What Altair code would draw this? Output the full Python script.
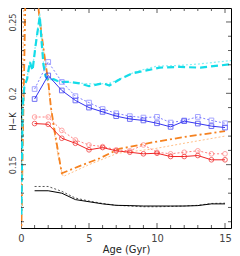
import altair as alt
import pandas as pd

# ---- data ----
ages = list(range(1, 16))
blue_solid = [0.196, 0.2125, 0.202, 0.195, 0.190, 0.187, 0.184, 0.182, 0.181, 0.179, 0.1765, 0.1805, 0.1788, 0.177, 0.176]
blue_dotted = [0.203, 0.222, 0.208, 0.198, 0.1935, 0.189, 0.186, 0.184, 0.183, 0.1835, 0.1795, 0.181, 0.1835, 0.181, 0.179]
red_solid = [0.1788, 0.1783, 0.1685, 0.165, 0.1604, 0.162, 0.1597, 0.1587, 0.1576, 0.158, 0.1557, 0.1557, 0.1564, 0.1534, 0.1534]
red_dotted = [0.1834, 0.1834, 0.174, 0.1673, 0.1638, 0.1627, 0.1604, 0.1597, 0.1638, 0.1587, 0.1576, 0.1587, 0.1597, 0.1576, 0.1576]
black_solid = [0.1317, 0.1317, 0.1300, 0.1255, 0.124, 0.1225, 0.1215, 0.1213, 0.121, 0.121, 0.121, 0.121, 0.1213, 0.1225, 0.1225]
black_dotted = [0.1347, 0.1347, 0.1313, 0.1266, 0.1245, 0.1228, 0.1215, 0.121, 0.1205, 0.1205, 0.1207, 0.121, 0.1215, 0.1228, 0.123]

cyan_dash_age = [0.03, 0.08, 0.12, 0.25, 0.45, 0.65, 0.85, 1.05, 1.38, 1.5, 1.65, 1.8, 2.0, 2.4, 2.8, 3.6, 4.3, 5.0, 6.0, 6.5, 7.3, 8.2, 8.7, 10.2, 11.7, 13.2, 14.6, 16.0]
cyan_dash_val = [0.115, 0.16, 0.19, 0.205, 0.21, 0.222, 0.216, 0.232, 0.254, 0.238, 0.22, 0.212, 0.209, 0.210, 0.208, 0.208, 0.207, 0.205, 0.207, 0.2055, 0.210, 0.214, 0.215, 0.218, 0.2185, 0.218, 0.2195, 0.221]
cyan_dot_age = [0.03, 0.08, 0.12, 0.25, 0.45, 0.65, 0.85, 1.05, 1.38, 1.5, 1.65, 1.8, 2.0, 3.0, 4.5, 5.5, 6.5, 7.5, 8.5, 10.0, 11.5, 13.0, 14.5, 16.0]
cyan_dot_val = [0.115, 0.16, 0.19, 0.205, 0.211, 0.223, 0.217, 0.233, 0.256, 0.239, 0.221, 0.213, 0.210, 0.208, 0.207, 0.2065, 0.207, 0.211, 0.2155, 0.219, 0.2195, 0.2205, 0.222, 0.2235]

orange_dd_age = [0.02, 0.12, 0.22, 0.32, 0.7, 1.1, 1.3, 1.5, 1.85, 2.0, 2.2, 2.5, 2.8, 3.0, 4.3, 5.8, 7.2, 10.0, 12.2, 15.0]
orange_dd_val = [0.10, 0.16, 0.21, 0.265, 0.30, 0.29, 0.258, 0.242, 0.218, 0.209, 0.19, 0.172, 0.155, 0.144, 0.149, 0.1545, 0.161, 0.1662, 0.1697, 0.1735]
orange_dot_age = [0.0, 0.05, 0.1, 0.2, 0.7, 1.1, 1.3, 1.6, 2.0, 2.4, 2.8, 3.1, 5.0, 7.1, 9.7, 12.0, 15.0]
orange_dot_val = [0.10, 0.15, 0.20, 0.26, 0.30, 0.29, 0.26, 0.235, 0.205, 0.175, 0.152, 0.1417, 0.150, 0.158, 0.161, 0.165, 0.170]

x_labels = [0, 5, 10, 15]
x_major = [5, 10, 15]
x_minor = [1, 2, 3, 4, 6, 7, 8, 9, 11, 12, 13, 14]
y_major = [0.15, 0.2, 0.25]
y_minor = [0.11, 0.12, 0.13, 0.14, 0.16, 0.17, 0.18, 0.19, 0.21, 0.22, 0.23, 0.24]

W, H = 210, 220
FONT = "Liberation Sans Narrow, DejaVu Sans Condensed, Liberation Sans, sans-serif"
xs = alt.Scale(domain=[0, 15.44], nice=False, zero=False)
ys = alt.Scale(domain=[0.1056, 0.2598], nice=False, zero=False)

X_AX = alt.Axis(
    values=x_labels, ticks=False, domain=False, grid=False, title="Age (Gyr)",
    labelFont=FONT, labelFontSize=11, labelColor="#444", labelPadding=4, labelFlush=False,
    titleFont=FONT, titleFontSize=11, titleFontWeight="normal", titleColor="#222", titlePadding=0)
Y_AX = alt.Axis(
    values=y_major, format="~g", ticks=False, domain=False, grid=False, title="H\u2212K",
    labelFont=FONT, labelFontSize=9, labelColor="#444", labelAngle=-90, labelFlush=False,
    labelAlign="center", labelBaseline="bottom", labelPadding=4,
    titleFont=FONT, titleFontSize=9, titleFontWeight="normal", titleColor="#222",
    titleAngle=-90, titleX=-9, titleY=113, titleAlign="center", titleBaseline="middle")


def X():
    return alt.X("age:Q", scale=xs, axis=X_AX)


def Y():
    return alt.Y("val:Q", scale=ys, axis=Y_AX)


def line(a, v, color, width=1.0, dash=None):
    kw = dict(color=color, strokeWidth=width, clip=True)
    if dash:
        kw["strokeDash"] = dash
    return alt.Chart(pd.DataFrame({"age": a, "val": v})).mark_line(**kw).encode(x=X(), y=Y())


def pts(a, v, color, shape):
    return alt.Chart(pd.DataFrame({"age": a, "val": v})).mark_point(
        shape=shape, filled=False, color=color, size=22, strokeWidth=1, clip=True).encode(x=X(), y=Y())


tick_col = "#333"


def xticks(vals, size):
    df = pd.DataFrame({"age": vals})
    b = alt.Chart(df).mark_rule(color=tick_col, strokeWidth=0.8).encode(
        x=X(), y=alt.value(H), y2=alt.value(H - size))
    t = alt.Chart(df).mark_rule(color=tick_col, strokeWidth=0.8).encode(
        x=X(), y=alt.value(0), y2=alt.value(size))
    return b + t


def yticks(vals, size):
    df = pd.DataFrame({"val": vals})
    l = alt.Chart(df).mark_rule(color=tick_col, strokeWidth=0.8).encode(
        y=Y(), x=alt.value(0), x2=alt.value(size))
    r = alt.Chart(df).mark_rule(color=tick_col, strokeWidth=0.8).encode(
        y=Y(), x=alt.value(W), x2=alt.value(W - size))
    return l + r


BLUE, LBLUE = "#3535f0", "#8080ff"
RED, LRED = "#f02525", "#ff8080"
ORANGE, LORANGE = "#f58220", "#ffc088"
CYAN, LCYAN = "#14dce8", "#88f0f5"

chart = alt.layer(
    line(orange_dot_age, orange_dot_val, LORANGE, 1.0, [2, 2]),
    line(orange_dd_age, orange_dd_val, ORANGE, 1.8, [7, 3, 2, 3]),
    line(cyan_dot_age, cyan_dot_val, LCYAN, 1.2, [2, 2]),
    line(cyan_dash_age, cyan_dash_val, CYAN, 2.2, [7, 4]),
    line(ages, black_dotted, "#555555", 1.0, [2, 2]),
    line(ages, black_solid, "#000000", 1.0),
    line(ages, red_dotted, LRED, 1.0, [2, 2]),
    pts(ages, red_dotted, LRED, "circle"),
    line(ages, red_solid, RED, 1.0),
    pts(ages, red_solid, RED, "circle"),
    line(ages, blue_dotted, LBLUE, 1.0, [2, 2]),
    pts(ages, blue_dotted, LBLUE, "square"),
    line(ages, blue_solid, BLUE, 1.0),
    pts(ages, blue_solid, BLUE, "square"),
    xticks(x_major, 5), xticks(x_minor, 3),
    yticks(y_major, 5), yticks(y_minor, 3),
).properties(
    width=W, height=H,
    autosize=alt.AutoSizeParams(type="none"),
    padding={"left": 13, "top": 0, "right": 1, "bottom": 28},
    background="white",
).configure_view(stroke="black", strokeWidth=1)

chart.save("out.html", embed_options={"renderer": "svg", "actions": False})
